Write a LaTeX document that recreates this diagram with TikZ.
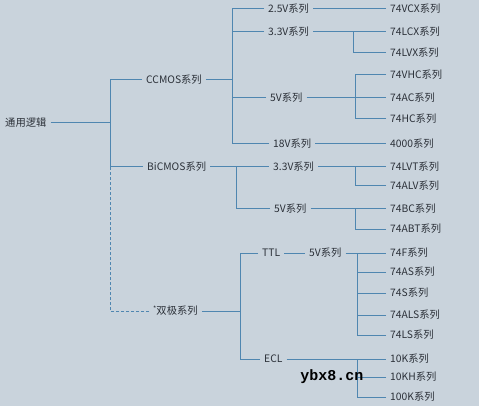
\documentclass[tikz,border=0pt]{standalone}
\usepackage{fontspec}
\setmainfont{Noto Sans CJK SC}
\newfontfamily\wmfont{Liberation Mono}
\definecolor{bgc}{HTML}{C9D3DC}
\definecolor{lnc}{HTML}{4F86B0}
\definecolor{txc}{HTML}{2B3038}
\tikzset{
  lbl/.style={anchor=west, inner xsep=4pt, inner ysep=1pt, text=txc, font=\fontsize{10.3}{11}\selectfont},
  conn/.style={draw=lnc, line width=1pt},
}
\begin{document}
\begin{tikzpicture}[x=1pt,y=-1pt]
\fill[bgc] (0,0) rectangle (479,406);
\useasboundingbox (0,0) rectangle (479,406);
% level 0-1
\node[lbl] (root) at (1,123) {通用逻辑};
\node[lbl] (ccmos) at (142,80) {CCMOS系列};
\node[lbl] (bicmos) at (143,167) {BiCMOS系列};
\node[lbl] (bip) at (149,311) {\raisebox{3pt}{\fontsize{7}{7}\selectfont *}双极系列};
% level 2
\node[lbl] (c25) at (264,9) {2.5V系列};
\node[lbl] (c33) at (264,32) {3.3V系列};
\node[lbl] (c5) at (266,98) {5V系列};
\node[lbl] (c18) at (269,144) {18V系列};
\node[lbl] (b33) at (269,167) {3.3V系列};
\node[lbl] (b5) at (270,209) {5V系列};
\node[lbl] (ttl) at (258,253) {TTL};
\node[lbl] (t5) at (305,253) {5V系列};
\node[lbl] (ecl) at (260,359) {ECL};
% leaves
\node[lbl] (vcx) at (386,9) {74VCX系列};
\node[lbl] (lcx) at (386,32) {74LCX系列};
\node[lbl] (lvx) at (386,53) {74LVX系列};
\node[lbl] (vhc) at (386,75) {74VHC系列};
\node[lbl] (ac) at (386,98) {74AC系列};
\node[lbl] (hc) at (386,119) {74HC系列};
\node[lbl] (k4000) at (386,144) {4000系列};
\node[lbl] (lvt) at (386,167) {74LVT系列};
\node[lbl] (alv) at (386,186) {74ALV系列};
\node[lbl] (bc) at (386,209) {74BC系列};
\node[lbl] (abt) at (386,229) {74ABT系列};
\node[lbl] (f) at (386,253) {74F系列};
\node[lbl] (as) at (386,272) {74AS系列};
\node[lbl] (s) at (386,293) {74S系列};
\node[lbl] (als) at (386,315) {74ALS系列};
\node[lbl] (ls) at (386,335) {74LS系列};
\node[lbl] (k10) at (386,359) {10K系列};
\node[lbl] (kh) at (386,377) {10KH系列};
\node[lbl] (k100) at (386,397) {100K系列};
% junctions
\coordinate (jA) at (110,123);
\coordinate (jB) at (232,80);
\coordinate (jC) at (353,32);
\coordinate (jD) at (355,98);
\coordinate (jE) at (236,167);
\coordinate (jF) at (355,167);
\coordinate (jG) at (355,209);
\coordinate (jH) at (240,311);
\coordinate (jI) at (357,253);
\coordinate (jJ) at (357,359);
% connectors
\draw[conn] (root.east) -- (jA);
\draw[conn] (ccmos.west) -| (jA);
\draw[conn] (bicmos.west) -| (jA);
\draw[conn, dashed, dash pattern=on 3pt off 2pt, line width=0.9pt] (bip.west) -| (jA |- bicmos.west);
\draw[conn] (ccmos.east) -- (jB);
\draw[conn] (c25.west) -| (jB);
\draw[conn] (c33.west) -| (jB);
\draw[conn] (c5.west) -| (jB);
\draw[conn] (c18.west) -| (jB);
\draw[conn] (c25.east) -- (vcx.west);
\draw[conn] (c33.east) -- (lcx.west);
\draw[conn] (lvx.west) -| (jC);
\draw[conn] (c5.east) -- (ac.west);
\draw[conn] (vhc.west) -| (jD);
\draw[conn] (hc.west) -| (jD);
\draw[conn] (c18.east) -- (k4000.west);
\draw[conn] (bicmos.east) -- (b33.west);
\draw[conn] (b5.west) -| (jE);
\draw[conn] (b33.east) -- (lvt.west);
\draw[conn] (alv.west) -| (jF);
\draw[conn] (b5.east) -- (bc.west);
\draw[conn] (abt.west) -| (jG);
\draw[conn] (bip.east) -- (jH);
\draw[conn] (ttl.west) -| (jH);
\draw[conn] (ecl.west) -| (jH);
\draw[conn] (ttl.east) -- (t5.west);
\draw[conn] (t5.east) -- (f.west);
\draw[conn] (as.west) -| (jI);
\draw[conn] (s.west) -| (jI);
\draw[conn] (als.west) -| (jI);
\draw[conn] (ls.west) -| (jI);
\draw[conn] (ecl.east) -- (k10.west);
\draw[conn] (kh.west) -| (jJ);
\draw[conn] (k100.west) -| (jJ);
% watermark
\node[anchor=center, inner sep=0pt, font=\wmfont\bfseries\fontsize{15}{15}\selectfont] (wm) at (332,377) {ybx8.cn};
\end{tikzpicture}
\end{document}
